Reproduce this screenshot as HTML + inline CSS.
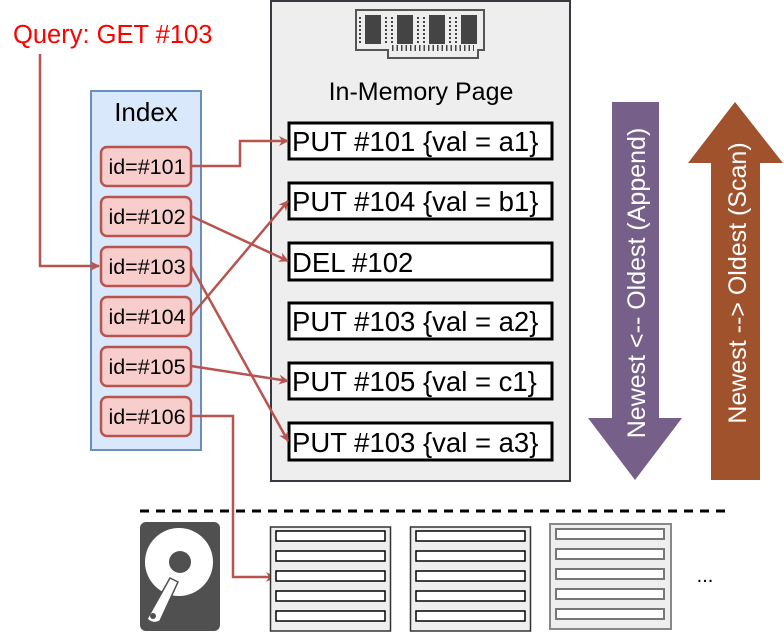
<!DOCTYPE html>
<html><head><meta charset="utf-8"><style>
html,body{margin:0;padding:0;background:#fff;}
svg{display:block;font-family:"Liberation Sans",Arial,sans-serif;}
</style></head><body>
<svg width="784" height="632" viewBox="0 0 784 632" xmlns="http://www.w3.org/2000/svg">
<defs>
<marker id="ar" markerWidth="10" markerHeight="10" refX="9" refY="5" orient="auto" markerUnits="userSpaceOnUse" viewBox="0 0 10 10">
<path d="M0,0 L10,5 L0,10 L3,5 Z" fill="#b85450"/>
</marker>
</defs>
<rect x="271" y="1" width="299" height="480" fill="#eeeeee" stroke="#36393d" stroke-width="2"/>
<g>
<path d="M356,10 H484 V50 H478 V58 H388 V50 H356 Z" fill="#eeeeee" stroke="#555" stroke-width="2"/>
<rect x="365" y="15" width="16" height="29" fill="#444"/>
<rect x="397" y="15" width="16" height="29" fill="#444"/>
<rect x="429" y="15" width="16" height="29" fill="#444"/>
<rect x="461" y="15" width="16" height="29" fill="#444"/>
<g stroke="#444" stroke-width="2">
<line x1="360" y1="17" x2="360" y2="43" stroke-dasharray="2,2"/>
<line x1="386" y1="17" x2="386" y2="43" stroke-dasharray="2,2"/>
<line x1="392" y1="17" x2="392" y2="43" stroke-dasharray="2,2"/>
<line x1="418" y1="17" x2="418" y2="43" stroke-dasharray="2,2"/>
<line x1="424" y1="17" x2="424" y2="43" stroke-dasharray="2,2"/>
<line x1="450" y1="17" x2="450" y2="43" stroke-dasharray="2,2"/>
<line x1="456" y1="17" x2="456" y2="43" stroke-dasharray="2,2"/>
<line x1="392" y1="48" x2="474" y2="48" stroke-dasharray="1.5,3" stroke-width="6"/>
</g>
</g>
<text x="421" y="100" font-size="25" text-anchor="middle" fill="#000">In-Memory Page</text>
<g fill="#fff" stroke="#000" stroke-width="3">
<rect x="289" y="123" width="263" height="36"/>
<rect x="289" y="183" width="263" height="36"/>
<rect x="289" y="243" width="263" height="37"/>
<rect x="289" y="303" width="263" height="36"/>
<rect x="289" y="363" width="263" height="36"/>
<rect x="289" y="423" width="263" height="37"/>
</g>
<g font-size="27.5" fill="#000">
<text x="292" y="151">PUT #101 {val = a1}</text>
<text x="292" y="211">PUT #104 {val = b1}</text>
<text x="292" y="272">DEL #102</text>
<text x="292" y="331">PUT #103 {val = a2}</text>
<text x="292" y="391">PUT #105 {val = c1}</text>
<text x="292" y="452">PUT #103 {val = a3}</text>
</g>
<rect x="91" y="91" width="110" height="359" fill="#dae8fc" stroke="#6c8ebf" stroke-width="2"/>
<text x="146" y="121" font-size="26" text-anchor="middle">Index</text>
<g fill="#f8cecc" stroke="#b85450" stroke-width="2.5">
<rect x="101" y="147" width="90" height="39" rx="6"/>
<rect x="101" y="197" width="90" height="39" rx="6"/>
<rect x="101" y="247" width="90" height="39" rx="6"/>
<rect x="101" y="297" width="90" height="39" rx="6"/>
<rect x="101" y="347" width="90" height="39" rx="6"/>
<rect x="101" y="397" width="90" height="39" rx="6"/>
</g>
<g font-size="21.5" text-anchor="middle" fill="#000">
<text x="147" y="174">id=#101</text>
<text x="147" y="224">id=#102</text>
<text x="147" y="274">id=#103</text>
<text x="147" y="324">id=#104</text>
<text x="147" y="374">id=#105</text>
<text x="147" y="424">id=#106</text>
</g>
<text x="13" y="43" font-size="25.5" fill="#ff0000">Query: GET #103</text>
<g fill="none" stroke="#b85450" stroke-width="2.5" marker-end="url(#ar)">
<polyline points="40,54 40,266 99,266"/>
<polyline points="191,166 240,166 240,141 288,141"/>
<line x1="191" y1="216" x2="288" y2="261"/>
<line x1="191" y1="316" x2="288" y2="201"/>
<line x1="191" y1="266" x2="288" y2="441"/>
<line x1="191" y1="366" x2="288" y2="381"/>
<polyline points="191,416 233,416 233,577 275,577"/>
</g>
<polygon points="612,102 659,102 659,418 682,418 635,480 588,418 612,418" fill="#76608a"/>
<text transform="translate(645,283) rotate(-90)" font-size="25" fill="#fff" text-anchor="middle">Newest &lt;-- Oldest (Append)</text>
<polygon points="711,480 760,480 760,163 783,163 735,102 688,163 711,163" fill="#a0522d"/>
<text transform="translate(746,283) rotate(-90)" font-size="25" fill="#fff" text-anchor="middle">Newest --&gt; Oldest (Scan)</text>
<line x1="140" y1="511" x2="728" y2="511" stroke="#000" stroke-width="3" stroke-dasharray="9,7"/>
<rect x="140" y="522" width="80" height="109" rx="6" fill="#505050"/>
<circle cx="179" cy="562" r="34" fill="#fff"/>
<circle cx="180" cy="562" r="11" fill="#505050"/>
<path d="M170,578 L178,582 L160,621 Q153,625 147,619 Z" fill="#fff" stroke="#505050" stroke-width="1.5"/>
<circle cx="153" cy="616" r="3" fill="#505050"/>
<g>
<rect x="270.5" y="527" width="120" height="104" fill="#eeeeee" stroke="#333" stroke-width="1.5"/>
<rect x="410.5" y="527" width="120" height="104" fill="#eeeeee" stroke="#333" stroke-width="1.5"/>
<rect x="550" y="524" width="121" height="105" fill="#eeeeee" stroke="#888" stroke-width="2"/>
</g>
<g fill="#fff" stroke="#000" stroke-width="1.5">
<rect x="276" y="531" width="109" height="10"/><rect x="276" y="551" width="109" height="10"/><rect x="276" y="571" width="109" height="10"/><rect x="276" y="591" width="109" height="10"/><rect x="276" y="611" width="109" height="10"/>
<rect x="416" y="531" width="109" height="10"/><rect x="416" y="551" width="109" height="10"/><rect x="416" y="571" width="109" height="10"/><rect x="416" y="591" width="109" height="10"/><rect x="416" y="611" width="109" height="10"/>
</g>
<g fill="#fff" stroke="#777" stroke-width="2">
<rect x="556" y="529" width="108" height="10"/><rect x="556" y="549" width="108" height="10"/><rect x="556" y="569" width="108" height="10"/><rect x="556" y="589" width="108" height="10"/><rect x="556" y="609" width="108" height="10"/>
</g>
<text x="705" y="582" font-size="20" text-anchor="middle">...</text>
</svg>
</body></html>
